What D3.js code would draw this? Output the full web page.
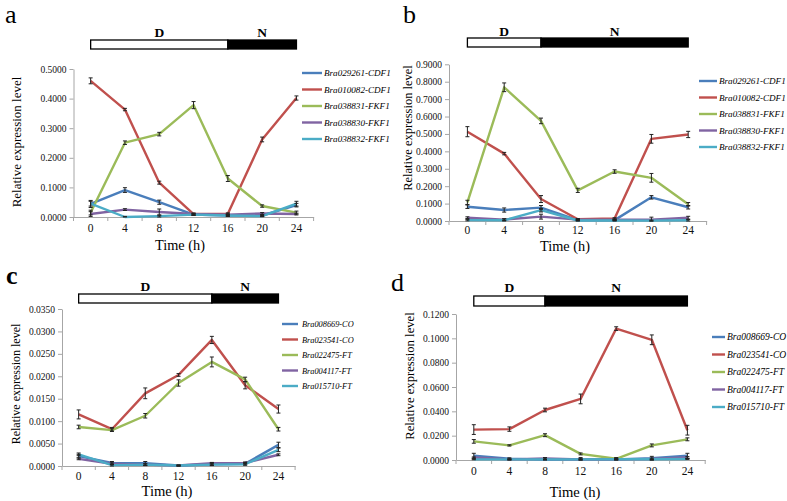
<!DOCTYPE html>
<html><head><meta charset="utf-8">
<script src="https://cdn.jsdelivr.net/npm/d3@7"></script>
<style>body{margin:0;background:#fff;}</style>
</head>
<body><svg id="chart" width="787" height="501"></svg>
<script>
// ---------- DATA ----------
const times = ["0","4","8","12","16","20","24"];
const colors = ["#4a7ebb","#c0504d","#9bbb59","#8064a2","#4bacc6"];

// Panel a (long day, 16 h light)
const aNames = ["Bra029261-CDF1","Bra010082-CDF1","Bra038831-FKF1","Bra038830-FKF1","Bra038832-FKF1"];
const aBlue   = [0.044,0.091,0.050,0.008,0.005,0.005,0.040];
const aRed    = [0.460,0.363,0.116,0.010,0.011,0.262,0.402];
const aGreen  = [0.015,0.251,0.280,0.378,0.130,0.037,0.015];
const aPurple = [0.010,0.025,0.017,0.010,0.008,0.012,0.010];
const aCyan   = [0.045,0.000,0.003,0.008,0.005,0.003,0.045];
const aBlueErr   = [0.012,0.008,0.007,0.003,0.003,0.003,0.006];
const aRedErr    = [0.010,0.004,0.005,0.003,0.003,0.008,0.007];
const aGreenErr  = [0.008,0.006,0.006,0.012,0.010,0.004,0.005];
const aPurpleErr = [0.008,0.003,0.010,0.003,0.003,0.003,0.003];
const aCyanErr   = [0.008,0.002,0.003,0.002,0.003,0.002,0.008];

// Panel b (short day, 8 h light)
const bNames = aNames;
const bBlue   = [0.082,0.063,0.077,0.005,0.005,0.136,0.079];
const bRed    = [0.513,0.387,0.126,0.010,0.015,0.472,0.497];
const bGreen  = [0.107,0.768,0.575,0.176,0.284,0.248,0.096];
const bPurple = [0.019,0.008,0.025,0.008,0.008,0.008,0.019];
const bCyan   = [0.005,0.004,0.062,0.003,0.003,0.002,0.004];
const bBlueErr   = [0.010,0.012,0.012,0.004,0.003,0.010,0.010];
const bRedErr    = [0.029,0.007,0.020,0.004,0.004,0.025,0.018];
const bGreenErr  = [0.012,0.025,0.016,0.012,0.010,0.025,0.010];
const bPurpleErr = [0.005,0.005,0.014,0.004,0.004,0.014,0.008];
const bCyanErr   = [0.004,0.008,0.010,0.003,0.003,0.003,0.004];

// Panel c (long day)
const cNames = ["Bra008669-CO","Bra023541-CO","Bra022475-FT","Bra004117-FT","Bra015710-FT"];
const cBlue   = [0.0022,0.0007,0.0006,0.0001,0.0004,0.0005,0.0047];
const cRed    = [0.0115,0.0082,0.0162,0.0203,0.0281,0.0180,0.0127];
const cGreen  = [0.0087,0.0080,0.0112,0.0185,0.0232,0.0193,0.0082];
const cPurple = [0.0016,0.0005,0.0003,0.0001,0.0006,0.0007,0.0025];
const cCyan   = [0.0026,0.0002,0.0003,0.0001,0.0003,0.0004,0.0036];
const cBlueErr   = [0.0004,0.0003,0.0004,0.0001,0.0003,0.0003,0.0006];
const cRedErr    = [0.0010,0.0004,0.0012,0.0003,0.0008,0.0008,0.0009];
const cGreenErr  = [0.0004,0.0003,0.0005,0.0007,0.0011,0.0005,0.0004];
const cPurpleErr = [0.0002,0.0002,0.0002,0.0001,0.0002,0.0002,0.0002];
const cCyanErr   = [0.0003,0.0002,0.0002,0.0001,0.0002,0.0002,0.0004];

// Panel d (short day)
const dNames = cNames;
const dBlue   = [0.0035,0.0010,0.0003,0.0005,0.0005,0.0015,0.0035];
const dRed    = [0.0250,0.0254,0.0411,0.0502,0.1080,0.0988,0.0245];
const dGreen  = [0.0153,0.0120,0.0204,0.0050,0.0010,0.0120,0.0170];
const dPurple = [0.0020,0.0005,0.0012,0.0005,0.0005,0.0008,0.0020];
const dCyan   = [0.0005,0.0005,0.0005,0.0005,0.0006,0.0006,0.0008];
const dBlueErr   = [0.0020,0.0008,0.0015,0.0015,0.0015,0.0015,0.0020];
const dRedErr    = [0.0040,0.0018,0.0015,0.0040,0.0015,0.0040,0.0040];
const dGreenErr  = [0.0015,0.0005,0.0012,0.0008,0.0005,0.0012,0.0012];
const dPurpleErr = [0.0005,0.0005,0.0008,0.0005,0.0005,0.0008,0.0008];
const dCyanErr   = [0.0003,0.0003,0.0003,0.0003,0.0003,0.0003,0.0003];

const aTicks = [0,0.1,0.2,0.3,0.4,0.5];
const bTicks = [0,0.1,0.2,0.3,0.4,0.5,0.6,0.7,0.8,0.9];
const cTicks = [0,0.005,0.01,0.015,0.02,0.025,0.03,0.035];
const dTicks = [0,0.02,0.04,0.06,0.08,0.1,0.12];

// ---------- LAYOUT ----------
const panels = [
 {letter:"a", letterX:5, letterY:23, letterBold:false,
  names:aNames, vals:[aBlue,aRed,aGreen,aPurple,aCyan], errs:[aBlueErr,aRedErr,aGreenErr,aPurpleErr,aCyanErr],
  ticks:aTicks, x0:73.5, bw:34.3, y0:217, y1:69, dayEnd:16,
  barY:40, barH:9, labY:37,
  legX:302, legLen:20, legGap:2, legY:73, legStep:16.5, legFont:9.1,
  ylabX:21, ylabY:142, ylabFont:13, xlabX:180, xlabY:250, xlabFont:14.3, xtickY:233},
 {letter:"b", letterX:403, letterY:23, letterBold:false,
  names:bNames, vals:[bBlue,bRed,bGreen,bPurple,bCyan], errs:[bBlueErr,bRedErr,bGreenErr,bPurpleErr,bCyanErr],
  ticks:bTicks, x0:449, bw:36.8, y0:221, y1:64.3, dayEnd:8,
  barY:38, barH:9, labY:36,
  legX:699, legLen:18, legGap:2, legY:81, legStep:16.5, legFont:9.1,
  ylabX:412, ylabY:128, ylabFont:12.5, xlabX:565, xlabY:251, xlabFont:14.3, xtickY:235},
 {letter:"c", letterX:6, letterY:284, letterBold:true,
  names:cNames, vals:[cBlue,cRed,cGreen,cPurple,cCyan], errs:[cBlueErr,cRedErr,cGreenErr,cPurpleErr,cCyanErr],
  ticks:cTicks, x0:62, bw:33.3, y0:466, y1:309, dayEnd:16,
  barY:294, barH:9, labY:291,
  legX:282, legLen:16, legGap:4, legY:324, legStep:15.5, legFont:8.3,
  ylabX:20, ylabY:384, ylabFont:12, xlabX:167, xlabY:496, xlabFont:14.6, xtickY:481},
 {letter:"d", letterX:391, letterY:291, letterBold:false,
  names:dNames, vals:[dBlue,dRed,dGreen,dPurple,dCyan], errs:[dBlueErr,dRedErr,dGreenErr,dPurpleErr,dCyanErr],
  ticks:dTicks, x0:456, bw:35.6, y0:460, y1:314, dayEnd:8,
  barY:296, barH:10, labY:292,
  legX:712, legLen:13, legGap:2, legY:337, legStep:17.5, legFont:9.5,
  ylabX:414, ylabY:376, ylabFont:12.7, xlabX:575, xlabY:497, xlabFont:14.6, xtickY:476}
];

const svg = d3.select("#chart");

panels.forEach(p => {
  const g = svg.append("g");
  const x = d3.scaleBand().domain(times).range([p.x0, p.x0 + p.bw*times.length]);
  const xc = t => x(t) + x.bandwidth()/2;
  const tScale = d3.scaleLinear().domain([0,24]).range([xc("0"), xc("24")]);
  const yMax = p.ticks[p.ticks.length-1];
  const y = d3.scaleLinear().domain([0,yMax]).range([p.y0, p.y1]);

  // panel letter
  g.append("text").attr("x",p.letterX).attr("y",p.letterY)
    .attr("font-size",26).attr("font-weight",p.letterBold?"bold":"normal").text(p.letter);

  // day / night bar
  g.append("rect").attr("x",tScale(0)).attr("y",p.barY).attr("width",tScale(p.dayEnd)-tScale(0)).attr("height",p.barH)
    .attr("fill","#fff").attr("stroke","#000").attr("stroke-width",1.3);
  g.append("rect").attr("x",tScale(p.dayEnd)).attr("y",p.barY).attr("width",tScale(24)-tScale(p.dayEnd)).attr("height",p.barH)
    .attr("fill","#000").attr("stroke","#000").attr("stroke-width",1.3);
  g.append("text").attr("x",(tScale(0)+tScale(p.dayEnd))/2).attr("y",p.labY).attr("text-anchor","middle")
    .attr("font-weight","bold").attr("font-size",13.5).text("D");
  g.append("text").attr("x",(tScale(p.dayEnd)+tScale(24))/2).attr("y",p.labY).attr("text-anchor","middle")
    .attr("font-weight","bold").attr("font-size",13.5).text("N");

  // y axis
  const ya = g.append("g").attr("transform",`translate(${p.x0},0)`)
    .call(d3.axisLeft(y).tickValues(p.ticks).tickFormat(d3.format(".4f")).tickSize(4).tickSizeOuter(0));
  ya.selectAll("text").attr("font-size",9.5).attr("fill","#111");
  ya.selectAll("line,path").attr("stroke","#a6a6a6");

  // x axis
  const xa = g.append("g").attr("transform",`translate(0,${p.y0})`)
    .call(d3.axisBottom(x).tickSize(0).tickSizeOuter(0).tickPadding(p.xtickY - p.y0 - 9));
  xa.selectAll("text").attr("font-size",11.5).attr("fill","#111");
  xa.select("path").attr("stroke","#a6a6a6");
  const edges = times.map(t => x(t)).concat([x.range()[1]]);
  xa.selectAll("line.edge").data(edges).enter().append("line").attr("class","edge")
    .attr("x1",d=>d).attr("x2",d=>d).attr("y1",0).attr("y2",4).attr("stroke","#a6a6a6");

  // axis titles
  g.append("text").attr("transform",`translate(${p.ylabX},${p.ylabY}) rotate(-90)`)
    .attr("text-anchor","middle").attr("font-size",p.ylabFont).text("Relative expression level");
  g.append("text").attr("x",p.xlabX).attr("y",p.xlabY).attr("text-anchor","middle")
    .attr("font-size",p.xlabFont).text("Time (h)");

  // series
  const line = d3.line().x((d,i)=>xc(times[i])).y(d=>y(d));
  p.vals.forEach((vals,si) => {
    g.append("path").datum(vals).attr("d",line).attr("fill","none")
      .attr("stroke",colors[si]).attr("stroke-width",2.4).attr("stroke-linejoin","round");
  });
  p.vals.forEach((vals,si) => {
    const errs = p.errs[si];
    const eg = g.append("g").attr("stroke","#222").attr("stroke-width",1);
    vals.forEach((v,i) => {
      const cx = xc(times[i]);
      const yt = y(v+errs[i]), yb = y(Math.max(0,v-errs[i]));
      eg.append("line").attr("x1",cx).attr("x2",cx).attr("y1",yt).attr("y2",yb);
      eg.append("line").attr("x1",cx-2).attr("x2",cx+2).attr("y1",yt).attr("y2",yt);
      eg.append("line").attr("x1",cx-2).attr("x2",cx+2).attr("y1",yb).attr("y2",yb);
    });
  });

  // legend
  p.names.forEach((n,si) => {
    const ly = p.legY + si*p.legStep;
    g.append("line").attr("x1",p.legX).attr("x2",p.legX+p.legLen).attr("y1",ly).attr("y2",ly)
      .attr("stroke",colors[si]).attr("stroke-width",2.4);
    g.append("text").attr("x",p.legX+p.legLen+p.legGap).attr("y",ly+3.1).attr("font-size",p.legFont)
      .attr("font-style","italic").text(n);
  });
});

svg.selectAll("g").attr("font-family",null);
svg.selectAll("text").style("font-family","\"Liberation Serif\"");
</script>
</body></html>
